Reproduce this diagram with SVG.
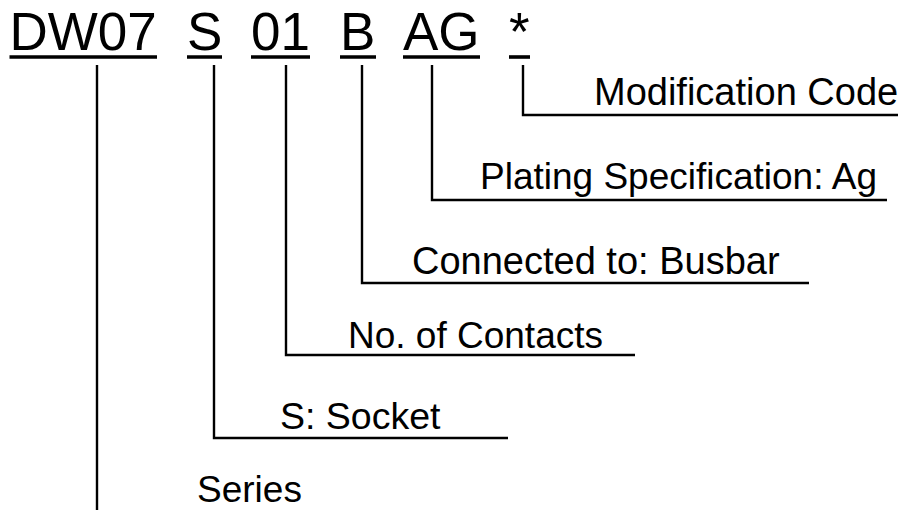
<svg xmlns="http://www.w3.org/2000/svg" width="902" height="510" viewBox="0 0 902 510">
<style>
.code{font-family:"Liberation Sans",Arial,sans-serif;font-size:53px;fill:#000}
.lbl{font-family:"Liberation Sans",Arial,sans-serif;font-size:38px;fill:#000}
.ul{stroke:#000;stroke-width:3.6;fill:none}
.ln{stroke:#000;stroke-width:2.4;fill:none}
</style>
<rect width="902" height="510" fill="#fff"/>
<g id="code">
<g id="seg-dw07"><text class="code" x="9.5" y="50">DW07</text><line class="ul" x1="9.5" y1="57" x2="157" y2="57"/></g>
<g id="seg-s"><text class="code" x="187" y="50">S</text><line class="ul" x1="187" y1="57" x2="222" y2="57"/></g>
<g id="seg-01"><text class="code" x="251" y="50">01</text><line class="ul" x1="251" y1="57" x2="310" y2="57"/></g>
<g id="seg-b"><text class="code" x="340" y="50">B</text><line class="ul" x1="340" y1="57" x2="376" y2="57"/></g>
<g id="seg-ag"><text class="code" x="403" y="50">AG</text><line class="ul" x1="403" y1="57" x2="480" y2="57"/></g>
<g id="seg-star"><text class="code" x="509" y="50">*</text><line class="ul" x1="509" y1="57" x2="530" y2="57"/></g>
</g>
<g id="connectors">
<polyline class="ln" points="523,65 523,115 898,115"/>
<polyline class="ln" points="432,65 432,200 887,200"/>
<polyline class="ln" points="362,65 362,283 809,283"/>
<polyline class="ln" points="286,65 286,355 635,355"/>
<polyline class="ln" points="214,65 214,438 508,438"/>
<line class="ln" x1="97" y1="65" x2="97" y2="510"/>
</g>
<g id="lbl-mod"><text class="lbl" x="594" y="105">Modification Code</text></g>
<g id="lbl-plating"><text class="lbl" x="480" y="189" style="font-size:37px">Plating Specification: Ag</text></g>
<g id="lbl-conn"><text class="lbl" x="412" y="274">Connected to: Busbar</text></g>
<g id="lbl-contacts"><text class="lbl" x="348" y="348" style="font-size:37px">No. of Contacts</text></g>
<g id="lbl-socket"><text class="lbl" x="280" y="429" style="font-size:37.5px">S: Socket</text></g>
<g id="lbl-series"><text class="lbl" x="197" y="502" style="font-size:37px">Series</text></g>
</svg>
